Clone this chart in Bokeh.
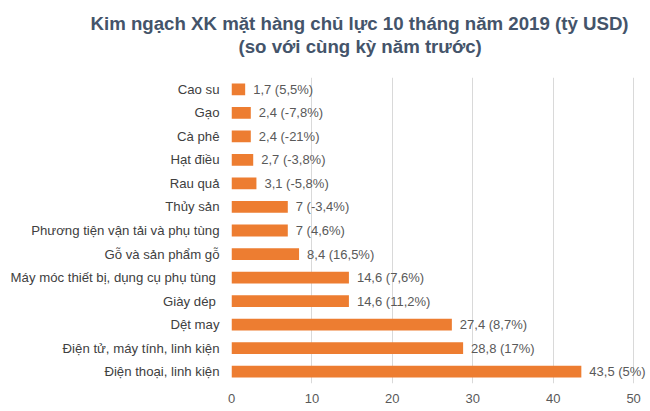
from bokeh.plotting import figure
from bokeh.models import ColumnDataSource, FactorRange, LabelSet, Title
from bokeh.core.properties import value
from bokeh.embed import file_html
from bokeh.resources import INLINE

# Data (top-to-bottom order as shown)
categories = [
    "Cao su", "Gạo", "Cà phê", "Hạt điều", "Rau quả", "Thủy sản",
    "Phương tiện vận tải và phụ tùng", "Gỗ và sản phẩm gỗ",
    "Máy móc thiết bị, dụng cụ phụ tùng ", "Giày dép ", "Dệt may",
    "Điện tử, máy tính, linh kiện", "Điện thoại, linh kiện",
]
values = [1.7, 2.4, 2.4, 2.7, 3.1, 7, 7, 8.4, 14.6, 14.6, 27.4, 28.8, 43.5]
changes = [5.5, -7.8, -21, -3.8, -5.8, -3.4, 4.6, 16.5, 7.6, 11.2, 8.7, 17, 5]
x_ticks = [0, 10, 20, 30, 40, 50]
title_lines = ["Kim ngạch XK mặt hàng chủ lực 10 tháng năm 2019 (tỷ USD)",
               "(so với cùng kỳ năm trước)"]

def fmt(v):
    return f"{v:g}".replace(".", ",")

labels = [f"{fmt(v)} ({fmt(c)}%)" for v, c in zip(values, changes)]

src = ColumnDataSource(dict(cat=categories, val=values, lab=labels))

FONT = "Liberation Sans"

p = figure(
    width=650, height=411,
    y_range=FactorRange(*list(reversed(categories))),
    x_range=(0, 52.1),
    output_backend="svg", toolbar_location=None,
    min_border_left=231, min_border_right=0, min_border_top=77, min_border_bottom=28,
)
p.outline_line_color = None
p.background_fill_color = "white"
p.border_fill_color = "white"

p.hbar(y="cat", right="val", left=0, height=0.5, source=src,
       fill_color="#ED7D31", line_color=None)

p.add_layout(LabelSet(x="val", y="cat", text="lab", source=src, x_offset=8,
                      text_baseline="middle", text_align="left",
                      text_font=value(FONT), text_font_size=value("13px"),
                      text_color=value("#595959")))

# axes
p.xaxis.ticker = x_ticks
p.xaxis.axis_line_color = None
p.xaxis.major_tick_line_color = None
p.xaxis.minor_tick_line_color = None
p.xaxis.major_tick_out = 0
p.xaxis.major_label_standoff = 10
p.xaxis.major_label_text_font = FONT
p.xaxis.major_label_text_font_size = "13px"
p.xaxis.major_label_text_color = "#595959"

p.yaxis.axis_line_color = None
p.yaxis.major_tick_line_color = None
p.yaxis.minor_tick_line_color = None
p.yaxis.major_tick_out = 0
p.yaxis.major_label_standoff = 12
p.yaxis.major_label_text_font = FONT
p.yaxis.major_label_text_font_size = "13.2px"
p.yaxis.major_label_text_color = "#404040"

p.ygrid.grid_line_color = None
p.xgrid.grid_line_color = "#D9D9D9"
p.xgrid.grid_line_width = 1

# two-line title: p.title is the outermost line
p.title.text = title_lines[0]
p.title.align = "left"
p.title.offset = -141
p.title.standoff = 0
p.title.text_font = FONT
p.title.text_font_style = "bold"
p.title.text_font_size = "18.67px"
p.title.text_color = "#44546A"

# blank spacer nearest the plot area (first added panel sits next to the frame)
spacer = Title(text=" ", standoff=0, text_font=FONT, text_font_size="17px")
p.add_layout(spacer, "above")

t2 = Title(text=title_lines[1], align="left", offset=7, standoff=0,
           text_font=FONT, text_font_style="bold", text_font_size="18.67px",
           text_color="#44546A")
p.add_layout(t2, "above")

open("out.html", "w").write(file_html(p, INLINE))
